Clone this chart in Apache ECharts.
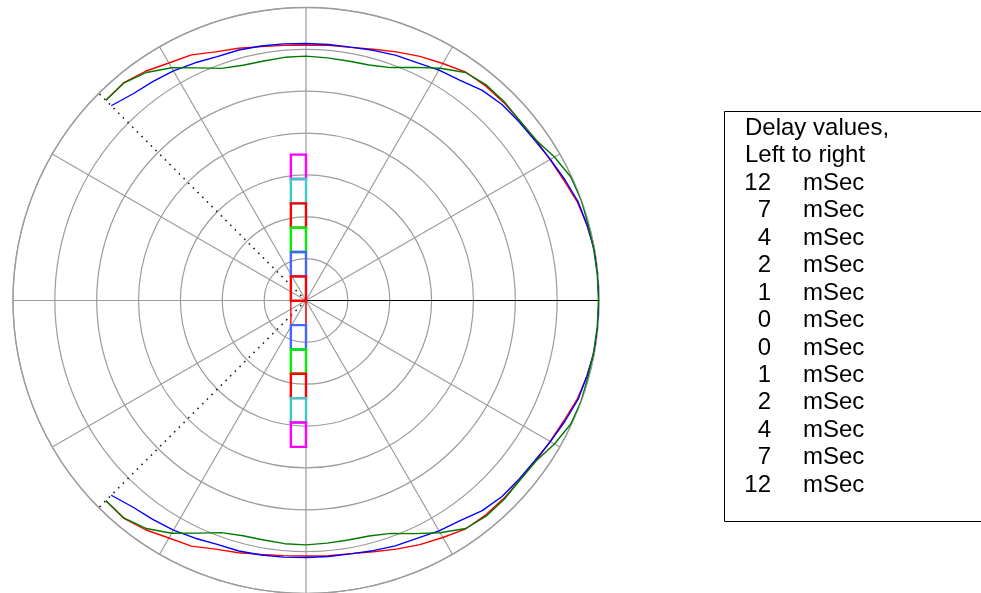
<!DOCTYPE html>
<html>
<head>
<meta charset="utf-8">
<script src="https://cdn.jsdelivr.net/npm/echarts@6/dist/echarts.min.js"></script>
<style>
html,body{margin:0;padding:0;background:#fff;}
#chart{width:981px;height:593px;}
</style>
</head>
<body>
<div id="chart"></div>
<script>
// ---- data ----
const angles = [-135,-130,-125,-120,-115,-110,-105,-100,-95,-90,-85,-80,-75,-70,-65,-60,-55,-50,-45,-40,-35,-30,-25,-20,-15,-10,-5,
  0,5,10,15,20,25,30,35,40,45,50,55,60,65,70,75,80,85,90,95,100,105,110,115,120,125,130,135];

const redValues = [33.81,33.92,33.43,32.76,32.38,31.61,31.19,30.80,30.59,30.52,30.59,30.70,31.08,31.61,32.17,32.69,33.29,33.43,33.43,33.36,33.50,33.67,33.99,34.48,34.76,34.97,35.00,
  35.00,
  35.00,34.97,34.76,34.48,33.99,33.67,33.50,33.36,33.43,33.43,33.29,32.69,32.17,31.61,31.08,30.70,30.59,30.52,30.59,30.80,31.19,31.61,32.38,32.76,33.43,33.92,33.81];

const blueValues = [32.90,32.20,31.92,31.68,31.33,31.01,30.98,30.87,30.77,30.70,30.70,30.73,30.94,31.19,31.36,31.78,32.10,32.76,33.11,33.22,33.36,33.71,34.13,34.58,34.76,34.97,35.00,
  35.00,
  35.00,34.97,34.76,34.58,34.13,33.71,33.36,33.22,33.11,32.76,32.10,31.78,31.36,31.19,30.94,30.73,30.70,30.70,30.77,30.87,30.98,31.01,31.33,31.68,31.92,32.20,32.90];

const greenValues = [33.81,33.88,33.25,32.10,30.66,29.51,29.09,29.05,29.16,29.19,29.09,29.05,29.12,29.61,30.73,32.03,33.25,33.57,33.53,33.36,33.50,34.27,34.90,35.00,34.90,34.90,34.93,
  34.93,
  34.93,34.90,34.90,35.00,34.90,34.27,33.50,33.36,33.53,33.57,33.25,32.03,30.73,29.61,29.12,29.05,29.09,29.19,29.16,29.05,29.09,29.51,30.66,32.10,33.25,33.88,33.81];

const guideAngles = [135, -135];
const radiusMax = 35;
const ringStep = 5;
const spokeStep = 30;

const speakerDelays = [12, 7, 4, 2, 1, 0, 0, 1, 2, 4, 7, 12];
const legendTitle = ['Delay values,', 'Left to right'];
const delayUnit = 'mSec';

// ---- styles ----
const speakerColors = ['#ff00ff','#3fc8c8','#ff0000','#00ee00','#4466ff','#ff0000','#ff0000','#4466ff','#00ee00','#ff0000','#3fc8c8','#ff00ff'];
const speakerLineWidths = [2.4,2.4,2.4,2.4,2.4,2.4,1.4,2.4,2.4,2.4,2.4,2.4];
const SPEAKER_W = 0.62;
const gridGrey = '#9c9c9c';

const chart = echarts.init(document.getElementById('chart'), null, {renderer: 'canvas'});

function polarLine(name, values, color) {
  return {
    name: name,
    type: 'line',
    coordinateSystem: 'polar',
    data: angles.map((a, i) => [values[i], a]),
    showSymbol: false,
    symbol: 'none',
    smooth: false,
    clip: false,
    lineStyle: {color: color, width: 1.4},
    z: 5,
    silent: true
  };
}

const guideSeries = guideAngles.map(a => ({
  type: 'line',
  coordinateSystem: 'polar',
  data: [[0, a], [radiusMax, a]],
  showSymbol: false,
  symbol: 'none',
  clip: false,
  lineStyle: {color: '#222', width: 1.6, type: [1.6, 5]},
  z: 4,
  silent: true
}));

// legend graphic
const LX = 745, NUM_RIGHT = 771, UNIT_X = 803, FIRST_Y = 128.3, STEP_Y = 27.45;
const font = '24px "Liberation Sans", Arial, sans-serif';
const legendEls = [{
  type: 'rect',
  shape: {x: 724.5, y: 111.5, width: 300, height: 410},
  style: {fill: '#fff', stroke: '#000', lineWidth: 1},
  z: 1
}];
legendTitle.forEach((t, i) => {
  legendEls.push({type: 'text', z: 2, style: {text: t, x: LX, y: FIRST_Y + i * STEP_Y, font: font, fill: '#000', align: 'left', verticalAlign: 'middle', textAlign: 'left', textVerticalAlign: 'middle'}});
});
speakerDelays.forEach((d, i) => {
  const y = FIRST_Y + (i + legendTitle.length) * STEP_Y;
  legendEls.push({type: 'text', z: 2, style: {text: String(d), x: NUM_RIGHT, y: y, font: font, fill: '#000', align: 'right', verticalAlign: 'middle', textAlign: 'right', textVerticalAlign: 'middle'}});
  legendEls.push({type: 'text', z: 2, style: {text: delayUnit, x: UNIT_X, y: y, font: font, fill: '#000', align: 'left', verticalAlign: 'middle', textAlign: 'left', textVerticalAlign: 'middle'}});
});

const half = speakerDelays.length / 2;

const option = {
  animation: false,
  backgroundColor: '#fff',
  polar: {center: [306, 300.5], radius: 293},
  angleAxis: {
    type: 'value', min: 0, max: 360, interval: spokeStep,
    startAngle: 0, clockwise: false,
    axisLine: {show: true, lineStyle: {color: gridGrey, width: 1.3}},
    axisTick: {show: false},
    axisLabel: {show: false},
    splitLine: {show: true, lineStyle: {color: gridGrey, width: 1.2}}
  },
  radiusAxis: {
    type: 'value', min: 0, max: radiusMax, interval: ringStep,
    axisLine: {show: true, lineStyle: {color: '#000', width: 1}},
    axisTick: {show: false},
    axisLabel: {show: false},
    splitLine: {show: true, lineStyle: {color: gridGrey, width: 1.2}},
    z: 3
  },
  grid: {left: 13, top: 8.5, width: 586, height: 586, show: false},
  xAxis: {type: 'value', min: -12, max: 12, show: false},
  yAxis: {type: 'value', min: -12, max: 12, show: false},
  graphic: {elements: legendEls},
  series: [
    ...guideSeries,
    {
      type: 'custom',
      coordinateSystem: 'cartesian2d',
      data: speakerDelays.map((d, i) => [i, d]),
      z: 6,
      silent: true,
      renderItem: function (params, api) {
        const i = api.value(0);
        const p0 = api.coord([-SPEAKER_W, half - i]);
        const p1 = api.coord([0, half - i - 1]);
        return {
          type: 'rect',
          shape: {x: p0[0], y: p0[1], width: p1[0] - p0[0], height: p1[1] - p0[1]},
          style: {fill: 'none', stroke: speakerColors[i], lineWidth: speakerLineWidths[i]}
        };
      }
    },
    polarLine('Red', redValues, '#ff0000'),
    polarLine('Blue', blueValues, '#0000ff'),
    polarLine('Green', greenValues, '#007a00')
  ]
};
chart.setOption(option);
</script>
</body>
</html>
